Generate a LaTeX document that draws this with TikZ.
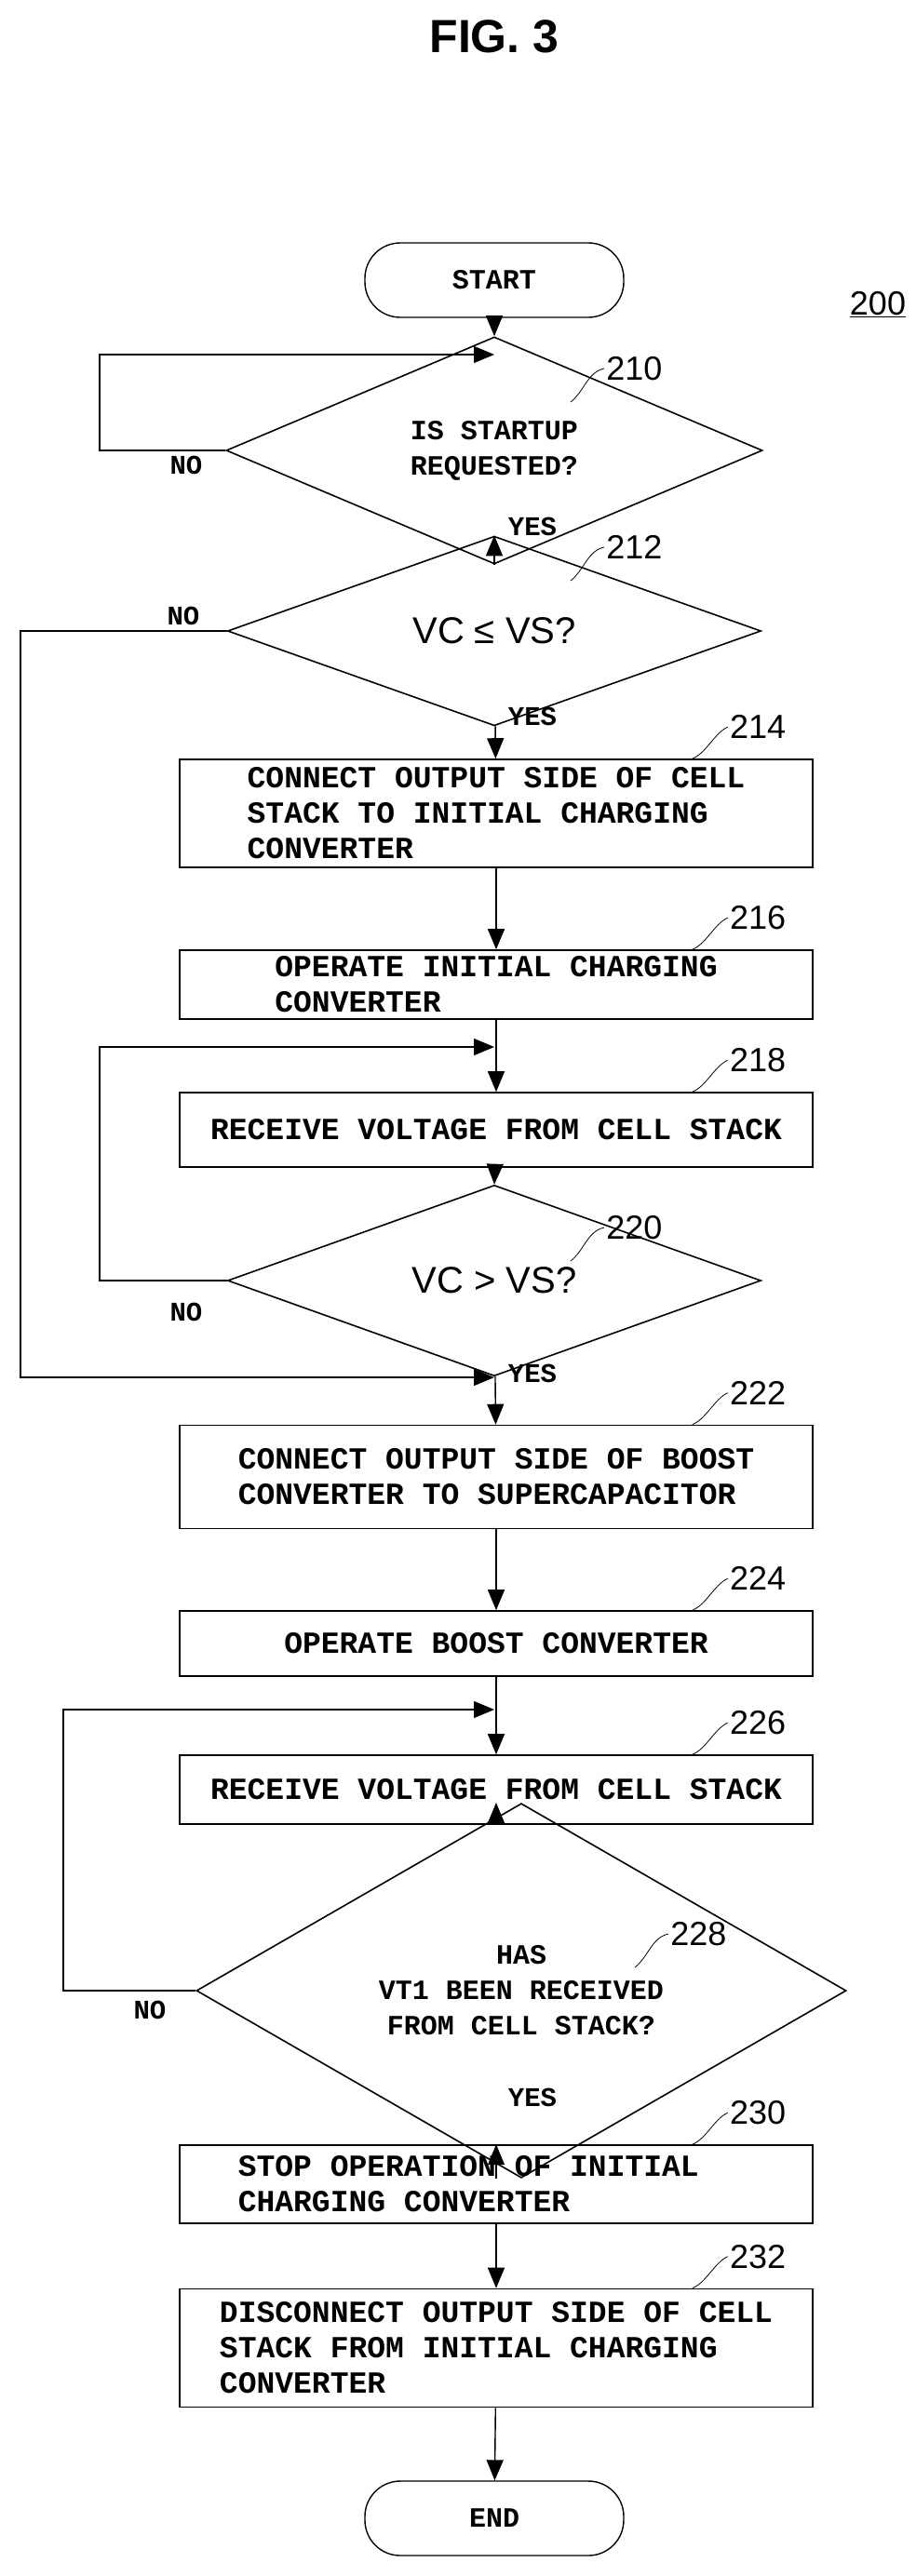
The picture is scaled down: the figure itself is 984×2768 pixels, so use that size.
\documentclass[tikz,border=0pt]{standalone}
\usepackage{fontspec}
\setmainfont{Liberation Mono}
\setsansfont{Liberation Sans}
\usetikzlibrary{shapes.geometric,arrows.meta}

\tikzset{
  proc/.style={draw,line width=1.6pt,minimum width=680pt,inner sep=0pt,align=left,font=\bfseries\fontsize{33}{38}\selectfont},
  term/.style={draw,line width=1.4pt,rounded corners=38pt,minimum width=278pt,minimum height=80pt,font=\bfseries\fontsize{30}{34}\selectfont},
  decide/.style={draw,diamond,line width=1.6pt,inner sep=0pt,align=center,font=\bfseries\fontsize{30}{38}\selectfont},
  lbl/.style={font=\bfseries\fontsize{29}{32}\selectfont},
  refno/.style={font=\sffamily\fontsize{36}{40}\selectfont,anchor=south west,inner sep=0pt},
  flow/.style={line width=1.4pt,-{Triangle[length=22pt,width=18pt]}},
}

\begin{document}
\begin{tikzpicture}[x=1pt,y=1pt,yscale=-1]
        \useasboundingbox (0,0) rectangle (984,2768);

        \node (fig) at (531,39) [font=\sffamily\bfseries\fontsize{50}{56}\selectfont] {FIG. 3};
        \node (num) at (943,327) [font=\sffamily\fontsize{36}{40}\selectfont] {\underline{200}};

        % terminals and steps
        \node [term] (start) at (531,301) {START};
        \node [decide,minimum width=576pt,minimum height=148pt] (d210) at (531,484) {IS STARTUP\\REQUESTED?};
        \node [decide,minimum width=573pt,minimum height=106pt,font=\sffamily\fontsize{40}{44}\selectfont] (d212) at (531,678) {VC ≤ VS?};
        \node [proc,minimum height=116pt] (s214) at (533,874) {CONNECT OUTPUT SIDE OF CELL\\STACK TO INITIAL CHARGING\\CONVERTER};
        \node [proc,minimum height=74pt] (s216) at (533,1058) {OPERATE INITIAL CHARGING\\CONVERTER\hspace*{9em}};
        \node [proc,minimum height=80pt] (s218) at (533,1214) {RECEIVE VOLTAGE FROM CELL STACK};
        \node [decide,minimum width=573pt,minimum height=138pt,font=\sffamily\fontsize{40}{44}\selectfont] (d220) at (531,1376) {VC > VS?};
        \node [proc,minimum height=111pt] (s222) at (533,1587) {CONNECT OUTPUT SIDE OF BOOST\\CONVERTER TO SUPERCAPACITOR};
        \node [proc,minimum height=70pt] (s224) at (533,1766) {OPERATE BOOST CONVERTER};
        \node [proc,minimum height=74pt] (s226) at (533,1923) {RECEIVE VOLTAGE FROM CELL STACK};
        \node [decide,minimum width=698pt,minimum height=180pt] (d228) at (560,2139) {HAS\\VT1 BEEN RECEIVED\\FROM CELL STACK?};
        \node [proc,minimum height=84pt] (s230) at (533,2347) {STOP OPERATION OF INITIAL\\CHARGING CONVERTER\hspace*{6em}};
        \node [proc,minimum height=127pt] (s232) at (533,2523) {DISCONNECT OUTPUT SIDE OF CELL\\STACK FROM INITIAL CHARGING\\CONVERTER};
        \node [term] (end) at (531,2706) {END};

        % merge points
        \coordinate (m210) at (531,381);
        \coordinate (m218) at (531,1125);
        \coordinate (m222) at (531,1480);
        \coordinate (m226) at (531,1837);

        % main flow
        \draw [flow] (start) -- (d210.north);
        \draw [flow] (d210) -- (d212.north);
        \draw [flow] (d212) -- (s214);
        \draw [flow] (s214) -- (s216);
        \draw [flow] (s216) -- (s218);
        \draw [flow] (s218) -- (d220.north);
        \draw [flow] (d220) -- (s222);
        \draw [flow] (s222) -- (s224);
        \draw [flow] (s224) -- (s226);
        \draw [flow] (s226) -- (s226 |- d228.north);
        \draw [flow] (s226 |- d228.south) -- (s230);
        \draw [flow] (s230) -- (s232);
        \draw [flow] (s232) -- (end);

        % loops
        \draw [flow] (d210.west) -- (107,484) -- (107,381) -- (m210);
        \draw [flow] (d212.west) -- (22,678) -- (22,1480) -- (m222);
        \draw [flow] (d220.west) -- (107,1376) -- (107,1125) -- (m218);
        \draw [flow] (d228.west) -- (68,2139) -- (68,1837) -- (m226);

        \node [lbl] (no1) at (200,500) {NO};
        \node [lbl] (yes1) at (572,566) {YES};
        \node [lbl] (no2) at (197,662) {NO};
        \node [lbl] (yes2) at (572,770) {YES};
        \node [lbl] (no3) at (200,1410) {NO};
        \node [lbl] (yes3) at (572,1476) {YES};
        \node [lbl] (no4) at (161,2160) {NO};
        \node [lbl] (yes4) at (572,2254) {YES};

        % reference numerals
        \foreach \n/\x/\y in {210/613/432, 212/613/624, 220/613/1355}
            \draw [line width=0.8pt] (\x,\y) .. controls (\x+15,\y-12) and (\x+18,\y-32) .. (\x+36,\y-36)
                node [refno,anchor=west,xshift=2pt] (r\n) {\n};
        \draw [line width=0.8pt] (682,2114) .. controls (697,2102) and (700,2082) .. (718,2078)
                node [refno,anchor=west,xshift=2pt] (r228) {228};
        \foreach \n/\s in {214/s214, 216/s216, 218/s218, 222/s222, 224/s224, 226/s226, 230/s230, 232/s232}
            \draw [line width=0.8pt] ([xshift=-130pt]\s.north east) .. controls +(15,-6) and +(-14,6) .. ++(38,-34)
                node [refno,anchor=west,xshift=2pt] (r\n) {\n};
    \end{tikzpicture}
\end{document}
